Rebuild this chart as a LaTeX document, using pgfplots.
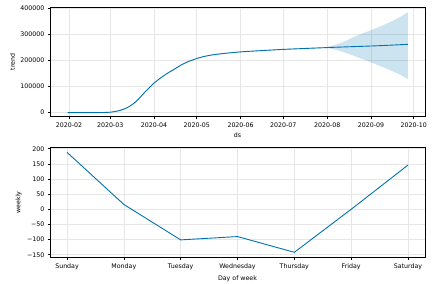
\documentclass[border=0pt]{standalone}
\usepackage{fontspec}
\setmainfont{DejaVu Sans}
\usepackage{pgfplots}
\pgfplotsset{compat=1.18}
\definecolor{pblue}{HTML}{0072B2}
\definecolor{gridc}{HTML}{E6E6E6}
\pgfplotsset{
 myax/.style={
  scale only axis, width=375bp,
  axis line style={black, line width=0.5bp},
  grid=major, major grid style={gridc, line width=0.6bp},
  tick align=outside, major tick length=2.2bp,
  tick style={black, line width=0.5bp},
  xtick pos=bottom, ytick pos=left,
  ticklabel style={font=\fontsize{6.3}{7}\selectfont},
  label style={font=\fontsize{6.3}{7}\selectfont},
  ylabel style={yshift=-1.5bp},
  xlabel style={yshift=1bp},
  /pgf/number format/assume math mode=true,
  axis on top=false,
 }
}
\begin{document}
\begin{tikzpicture}
\path[use as bounding box] (-50bp,-167.3bp) rectangle (389bp,116.7bp);
\begin{axis}[myax, height=109.4bp, at={(0,0)}, anchor=south west,
  xmin=17.6, xmax=282, ymin=-15400, ymax=404600,
  xtick={31,60,91,121,152,182,213,244,274},
  xticklabels={2020-02,2020-03,2020-04,2020-05,2020-06,2020-07,2020-08,2020-09,2020-10},
  ytick={0,100000,200000,300000,400000},
  yticklabels={0,100000,200000,300000,400000},
  scaled y ticks=false,
  xlabel={ds}, ylabel={trend}]
\addplot[fill=pblue, fill opacity=0.2, draw=none] coordinates {
(30,1500)(40,1600)(50,1900)(56,2400)(60,3300)(64,6500)(67,10500)(70,16000)(73,23500)(77,38500)(80,53500)(84,77500)(88,99500)(91,115500)(95,132500)(100,151500)(105,167500)(110,184500)(115,197500)(121,209500)(126,217000)(131,222500)(137,227000)(144,231000)(152,235000)(167,240000)(182,244500)(197,248000)(213,251800)(218,259000)(224,270500)(234,296000)(244,317000)(250,330000)(257,347000)(264,366000)(270,386000)
(270,129000)(264,147000)(257,164000)(250,180000)(244,193000)(234,214000)(224,234000)(218,243000)(213,248200)(197,245000)(182,241500)(167,237000)(152,232000)(144,228000)(137,224000)(131,219500)(126,214000)(121,206500)(115,194500)(110,181500)(105,164500)(100,148500)(95,129500)(91,112500)(88,96500)(84,74500)(80,50500)(77,35500)(73,20500)(70,13000)(67,7500)(64,3500)(60,300)(56,-600)(50,-1100)(40,-1400)(30,-1500)
} -- cycle;
\addplot[pblue, line width=0.9bp, smooth, tension=0.3] coordinates {
(30,0)(40,100)(50,400)(56,900)(60,1800)(64,5000)(67,9000)(70,14500)(73,22000)(77,37000)(80,52000)(84,76000)(88,98000)(91,114000)(95,131000)(100,150000)(105,166000)(110,183000)(115,196000)(121,208000)(126,215500)(131,221000)(137,225500)(144,229500)(152,233500)(167,238500)(182,243000)(197,246500)(213,250000)(228,253000)(244,256000)(257,259000)(270,262500)
};
\end{axis}
\begin{axis}[myax, height=110.4bp, at={(0,-141bp)}, anchor=south west,
  xmin=-0.3, xmax=6.3, ymin=-159.8, ymax=204.7,
  xtick={0,1,2,3,4,5,6},
  xticklabels={Sunday,Monday,Tuesday,Wednesday,Thursday,Friday,Saturday},
  ytick={-150,-100,-50,0,50,100,150,200},
  yticklabels={−150,−100,−50,0,50,100,150,200},
  xlabel={Day of week}, ylabel={weekly}]
\addplot[pblue, line width=0.9bp] coordinates {
(0,188)(1,16)(2,-101)(3,-90)(4,-142)(5,0)(6,146)
};
\end{axis}
\end{tikzpicture}
\end{document}
